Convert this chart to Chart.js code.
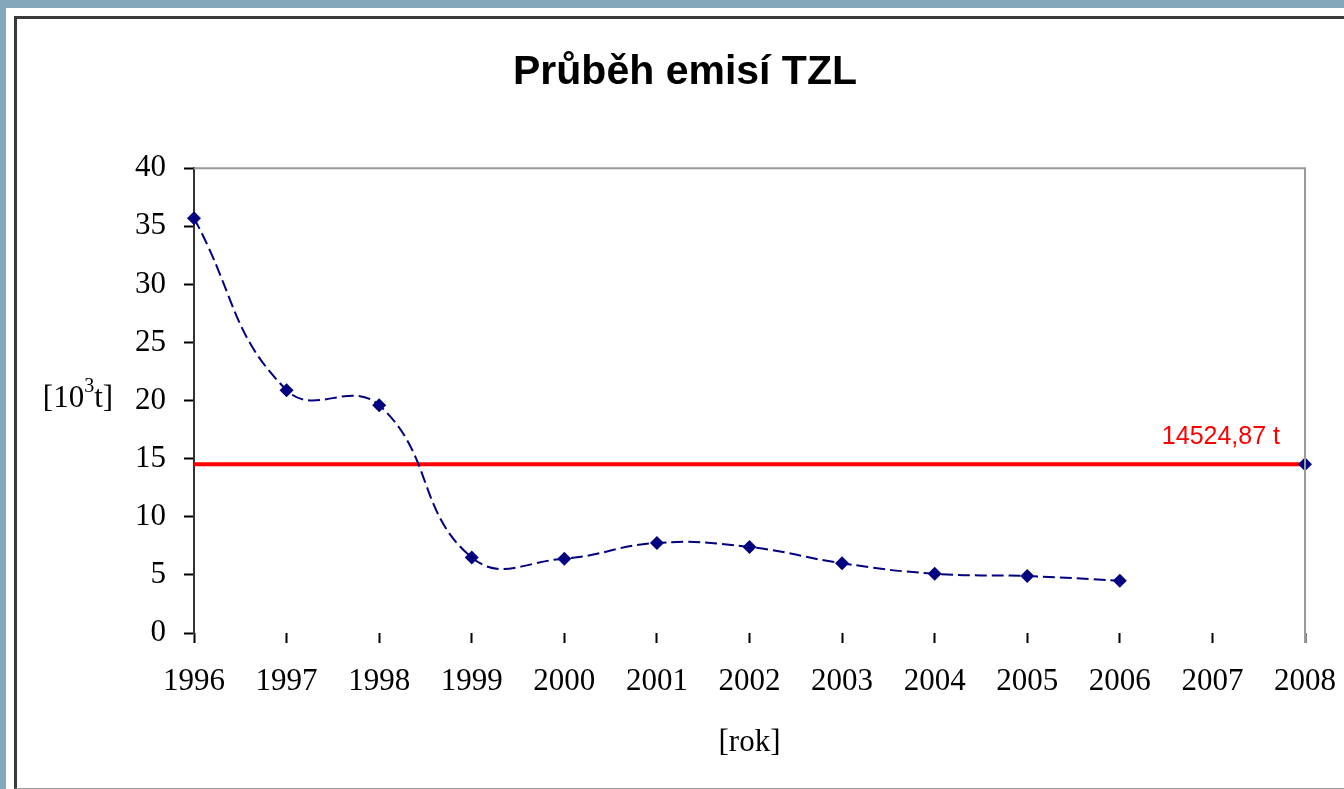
<!DOCTYPE html>
<html>
<head>
<meta charset="utf-8">
<script src="https://cdn.jsdelivr.net/npm/chart.js@4/dist/chart.umd.min.js"></script>
<style>
  html, body { margin: 0; padding: 0; overflow: hidden; }
  body { background: #84a7bc; width: 1344px; height: 789px; position: relative; }
  .panel { position: absolute; left: 6px; top: 8px; right: 0; bottom: 0; background: #fff; }
  .frame { position: absolute; left: 14px; top: 16px; width: 1400px; height: 769px;
           border-left: 3px solid #3a3a3a; border-top: 3px solid #3a3a3a; border-bottom: 1px solid #9a9a9a; }
  #graf { position: absolute; left: 0; top: 0; }
</style>
</head>
<body>
<div class="panel"></div>
<div class="frame"></div>
<canvas id="graf" width="1344" height="789"></canvas>
<script>
// ═══════════════════════════════════════════════════════
//  DATA
// ═══════════════════════════════════════════════════════
const roky    = ['1996','1997','1998','1999','2000','2001','2002','2003','2004','2005','2006','2007','2008'];
const emise   = [35.7, 20.9, 19.6, 6.5, 6.4, 7.75, 7.4, 6.0, 5.1, 4.9, 4.5, null, 14.52];
const limit   = 14.52;
const limitRada = roky.map(() => limit);
const limitLabel = '14524,87 t';
const yTicks  = [0, 5, 10, 15, 20, 25, 30, 35, 40];

const SERIF = '"Liberation Serif", "Times New Roman", serif';
const SANS  = '"Liberation Sans", Arial, sans-serif';

// popisky a rám grafu
const doplnky = {
  id: 'doplnky',
  afterDraw(chart) {
    const { ctx, chartArea: a, scales: { x, y } } = chart;
    ctx.save();
    // šedý rám nahoře a vpravo
    ctx.strokeStyle = '#9a9a9a';
    ctx.lineWidth = 2;
    ctx.beginPath();
    ctx.moveTo(a.left, a.top);
    ctx.lineTo(a.right, a.top);
    ctx.lineTo(a.right, a.bottom + 10);
    ctx.stroke();

    // popisek limitu
    ctx.fillStyle = '#ff0000';
    ctx.font = '25px ' + SANS;
    ctx.textAlign = 'right';
    ctx.textBaseline = 'middle';
    ctx.fillText(limitLabel, x.getPixelForValue(roky.length - 1) - 25, y.getPixelForValue(limit) - 27);

    // titulek osy y  [10^3 t]
    ctx.fillStyle = '#000';
    ctx.textAlign = 'left';
    const cy = (a.top + a.bottom) / 2 - 2;
    const big = '31px ' + SERIF, small = '20px ' + SERIF;
    ctx.font = big;  const w1 = ctx.measureText('[10').width, w3 = ctx.measureText('t]').width;
    ctx.font = small; const w2 = ctx.measureText('3').width;
    let px = 78 - (w1 + w2 + w3) / 2;
    ctx.font = big;   ctx.fillText('[10', px, cy); px += w1;
    ctx.font = small; ctx.fillText('3', px, cy - 12); px += w2;
    ctx.font = big;   ctx.fillText('t]', px, cy);
    ctx.restore();
  }
};

new Chart(document.getElementById('graf'), {
  type: 'line',
  data: {
    labels: roky,
    datasets: [
      { label: 'TZL', data: emise, borderColor: '#000080', backgroundColor: '#000080',
        borderWidth: 2, borderDash: [12, 5], tension: 0.45, spanGaps: false,
        pointStyle: 'rectRot', pointRadius: 7, pointBorderWidth: 0, order: 0 },
      { label: 'limit', data: limitRada, borderColor: '#ff0000', borderWidth: 4,
        pointRadius: 0, tension: 0, order: 1 }
    ]
  },
  options: {
    responsive: false,
    animation: false,
    layout: { padding: { left: 65, right: 39, top: 48, bottom: 0 } },
    plugins: {
      legend: { display: false },
      tooltip: { enabled: false },
      title: { display: true, text: 'Průběh emisí TZL', color: '#000',
               font: { family: SANS, size: 41, weight: 'bold' }, padding: { top: 0, bottom: 71 } }
    },
    scales: {
      y: {
        min: 0, max: 40,
        afterFit: s => { s.width = 129; },
        afterBuildTicks: s => { s.ticks = yTicks.map(v => ({ value: v })); },
        ticks: { color: '#000', font: { family: SERIF, size: 31 }, padding: 18 },
        grid: { drawOnChartArea: false, tickLength: 10, tickColor: '#000', tickWidth: 2 },
        border: { color: '#333', width: 2 }
      },
      x: {
        offset: false,
        afterFit: s => { s.height = 156; s.paddingLeft = 0; s.paddingRight = 0; },
        ticks: { color: '#000', font: { family: SERIF, size: 31 }, padding: 20, maxRotation: 0, autoSkip: false },
        grid: { drawOnChartArea: false, tickLength: 10, tickColor: '#000', tickWidth: 2 },
        border: { display: false },
        title: { display: true, text: '[rok]', color: '#000',
                 font: { family: SERIF, size: 31 }, padding: { top: 0, bottom: 28 } }
      }
    }
  },
  plugins: [doplnky]
});
</script>
</body>
</html>
